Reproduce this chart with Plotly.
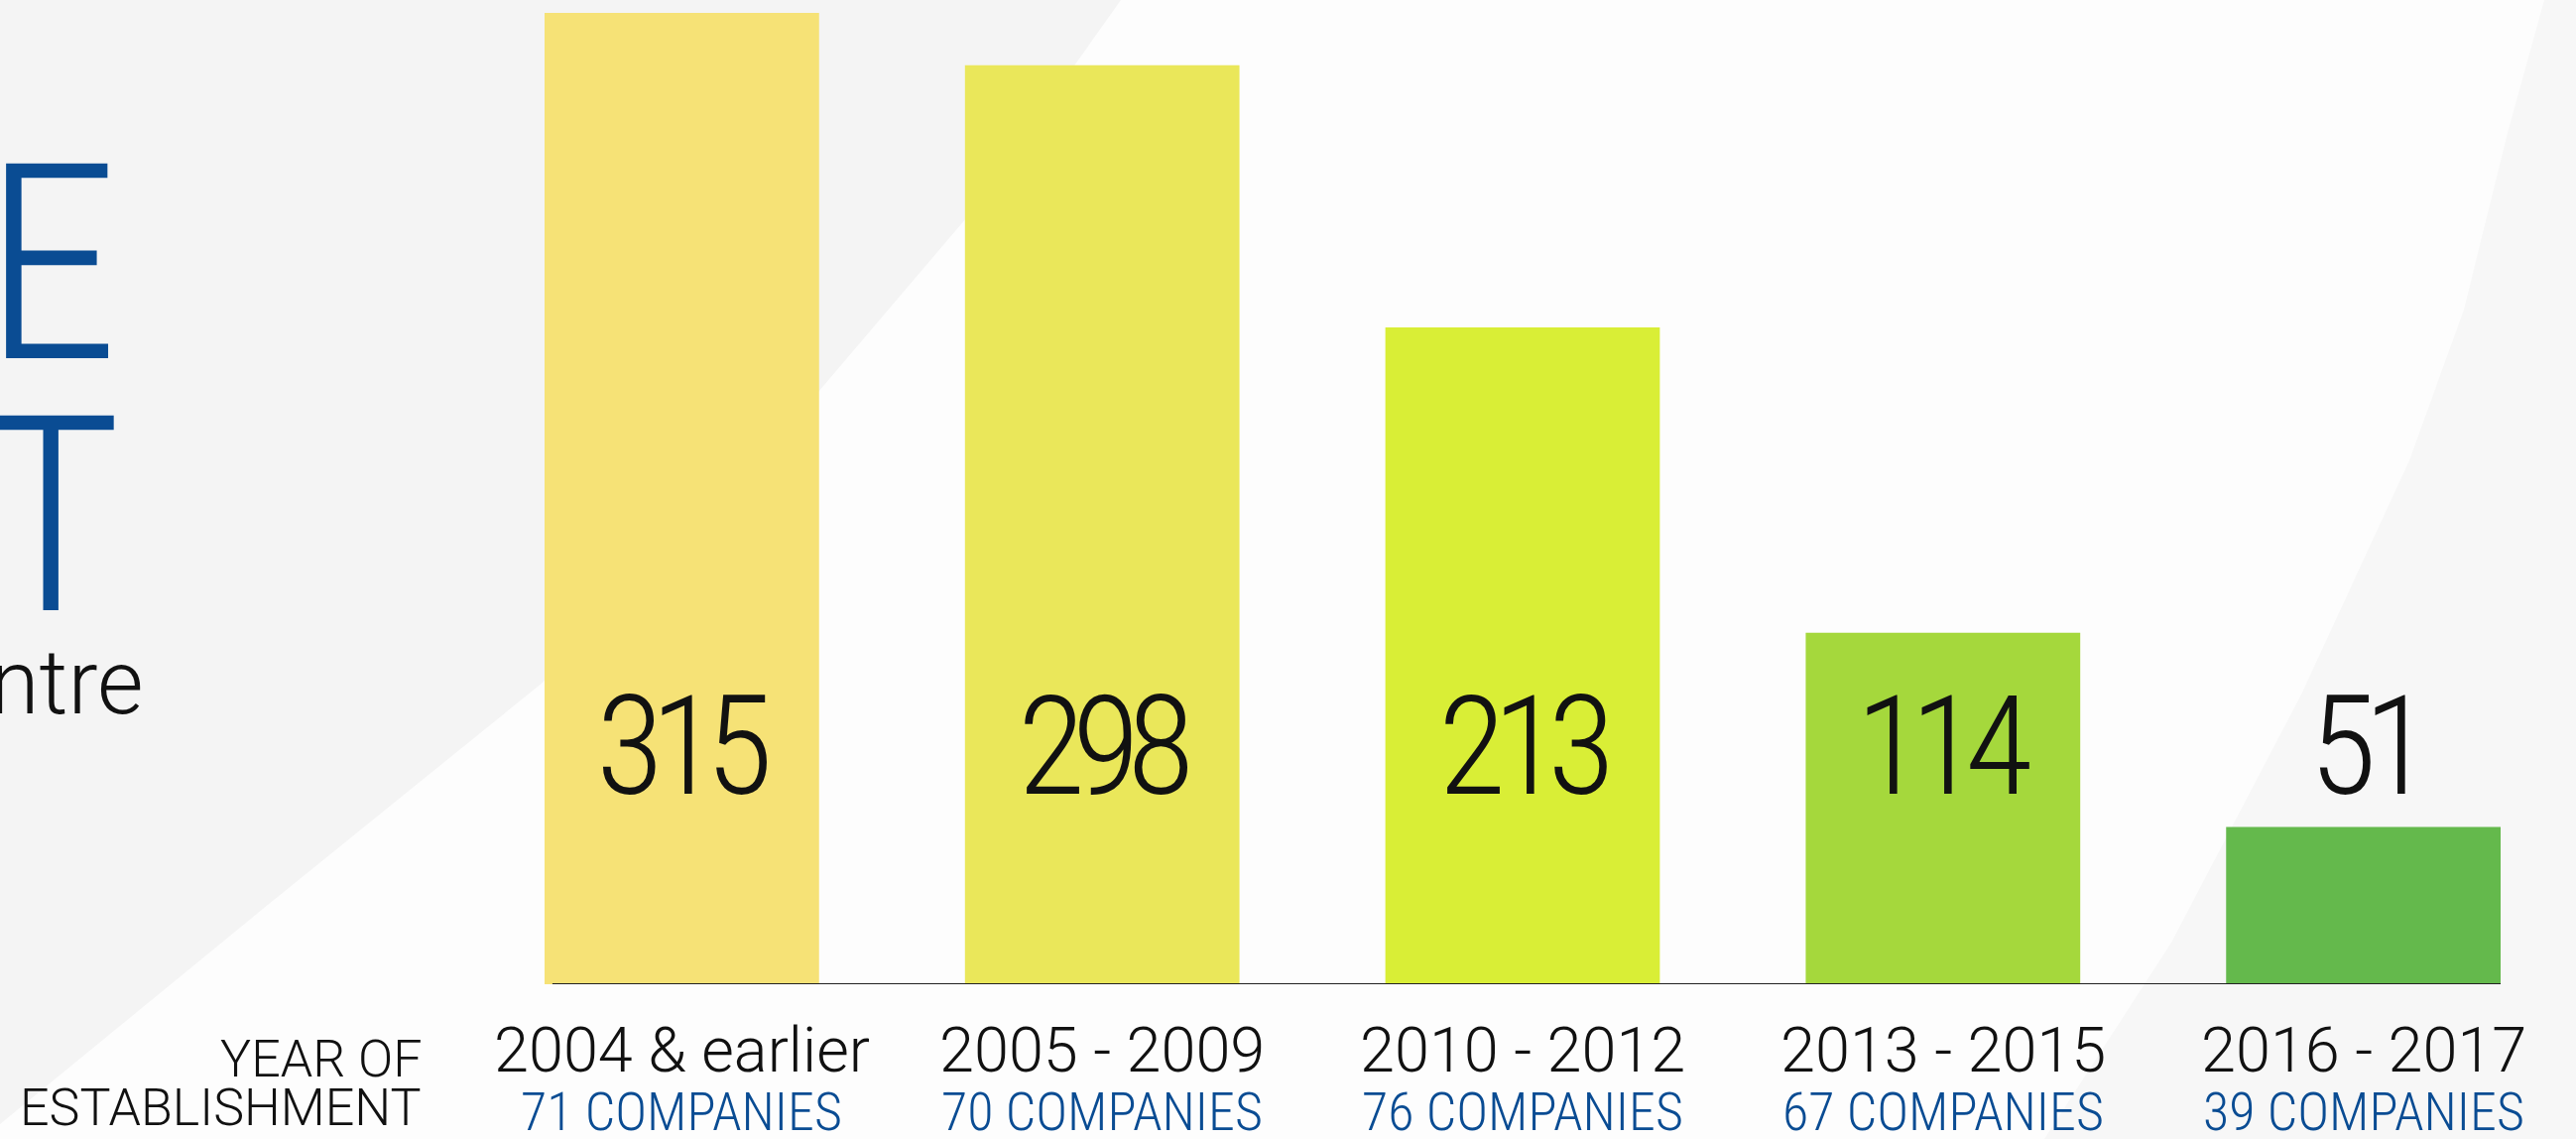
import plotly.graph_objects as go

# ---- data ----
categories = ["2004 & earlier", "2005 - 2009", "2010 - 2012", "2013 - 2015", "2016 - 2017"]
values = [315, 298, 213, 114, 51]
companies = ["71 COMPANIES", "70 COMPANIES", "76 COMPANIES", "67 COMPANIES", "39 COMPANIES"]
bar_colors = ["#f6e276", "#eae75a", "#d9ee36", "#a5d83c", "#64b94c"]

W, H = 2597, 1148
L, R, T, B = 549, 76, 13, 156
PW, PH = W - L - R, H - T - B

def px(x, y):
    return (x - L) / PW, (H - B - y) / PH

def path(points):
    pts = [px(x, y) for x, y in points]
    return "M " + " L ".join(f"{a:.5f},{b:.5f}" for a, b in pts) + " Z"

def tight(s, sp):
    return f'<span style="letter-spacing:{sp}px">{s}</span>'

BLUE = "#0a4c93"
COND = "Roboto Condensed, Liberation Sans Narrow, sans-serif"
REG = "Roboto, Open Sans, sans-serif"

fig = go.Figure()
fig.add_trace(go.Bar(
    x=list(range(len(categories))), y=values,
    marker=dict(color=bar_colors, line=dict(width=0)),
    hoverinfo="skip",
))

shapes = [
    dict(type="path", xref="paper", yref="paper", layer="below",
         path=path([(0, 0), (1130, 0), (974, 220), (825, 395), (547, 688),
                    (270, 912), (0, 1133)]),
         fillcolor="#f4f4f4", line=dict(width=0)),
    dict(type="path", xref="paper", yref="paper", layer="below",
         path=path([(2565, 0), (2528, 134), (2484, 312), (2429, 464), (2369, 594),
                    (2320, 700), (2189, 950), (2061, 1148), (2597, 1148), (2597, 0)]),
         fillcolor="#f7f7f7", line=dict(width=0)),
    dict(type="line", xref="x domain", yref="y", x0=0.004, x1=1, y0=0, y1=0,
         line=dict(color="#222222", width=2)),
]

annotations = []
val_y = px(0, 752)[1]
cat_y = px(0, 1058)[1]
comp_y = px(0, 1120)[1]
for i, (c, v, n) in enumerate(zip(categories, values, companies)):
    annotations.append(dict(x=i, y=val_y, xref="x", yref="paper", text=tight(str(v), -13),
                            showarrow=False, xanchor="center", yanchor="middle",
                            font=dict(family=COND, size=140, color="#111111", weight=300)))
    annotations.append(dict(x=i, y=cat_y, xref="x", yref="paper", text=c,
                            showarrow=False, xanchor="center", yanchor="middle",
                            font=dict(family=REG, size=63, color="#111111", weight=300)))
    annotations.append(dict(x=i, y=comp_y, xref="x", yref="paper", text=n,
                            showarrow=False, xanchor="center", yanchor="middle",
                            font=dict(family=COND, size=54, color=BLUE, weight=300)))

ax = px(427, 0)[0]
annotations += [
    dict(x=ax, y=px(0, 1067)[1], xref="paper", yref="paper", text="YEAR OF",
         showarrow=False, xanchor="right", yanchor="middle",
         font=dict(family=REG, size=52, color="#111111", weight=300)),
    dict(x=ax, y=px(0, 1116)[1], xref="paper", yref="paper", text="ESTABLISHMENT",
         showarrow=False, xanchor="right", yanchor="middle",
         font=dict(family=REG, size=52, color="#111111", weight=300)),
    dict(x=px(122, 0)[0], y=px(0, 266)[1], xref="paper", yref="paper", text="GE",
         showarrow=False, xanchor="right", yanchor="middle",
         font=dict(family=COND, size=276, color=BLUE, weight=300)),
    dict(x=px(125, 0)[0], y=px(0, 520)[1], xref="paper", yref="paper", text="NT",
         showarrow=False, xanchor="right", yanchor="middle",
         font=dict(family=COND, size=276, color=BLUE, weight=300)),
    dict(x=px(146, 0)[0], y=px(0, 688)[1], xref="paper", yref="paper", text="ntre",
         showarrow=False, xanchor="right", yanchor="middle",
         font=dict(family=REG, size=90, color="#111111", weight=300)),
]

fig.update_layout(
    width=W, height=H,
    margin=dict(l=L, r=R, t=T, b=B, pad=0),
    paper_bgcolor="#fdfdfd", plot_bgcolor="rgba(0,0,0,0)",
    showlegend=False, bargap=0.347,
    xaxis=dict(range=[-0.3265, 4.3265], showgrid=False, zeroline=False,
               showticklabels=False, ticks="", showline=False, fixedrange=True),
    yaxis=dict(range=[0, 315], showgrid=False, zeroline=False, visible=False,
               fixedrange=True),
    shapes=shapes, annotations=annotations,
)

fig.write_html("out.html", config={"displayModeBar": False},
               post_script="document.body.style.margin='0';document.body.style.overflow='hidden';")
